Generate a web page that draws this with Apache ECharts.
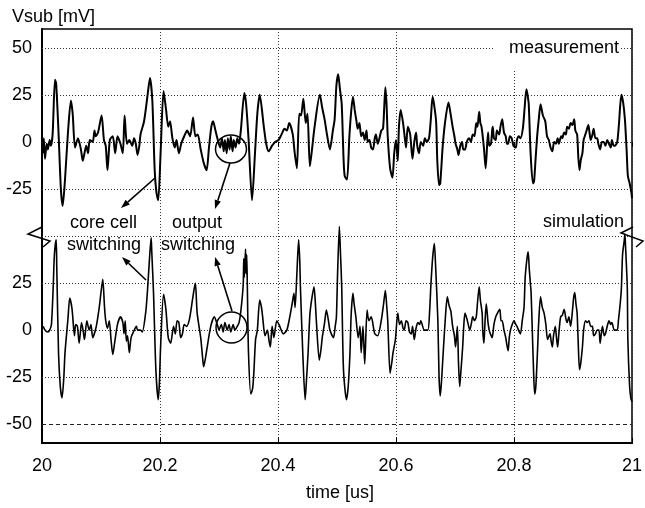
<!DOCTYPE html>
<html>
<head>
<meta charset="utf-8">
<title>Substrate voltage: measurement vs simulation</title>
<script src="https://cdn.jsdelivr.net/npm/echarts/dist/echarts.min.js"></script>
<style>
  html, body { margin: 0; padding: 0; background: #fff; }
  #chart { width: 645px; height: 508px; }
</style>
</head>
<body>
<div id="chart"></div>
<script>
// Substrate voltage Vsub [mV] versus time [us]; [time, mV] pairs.
const measured = [[20.002,-6],[20.003,2],[20.005,-9],[20.008,-1],[20.010,-4],[20.013,1],[20.015,-2],[20.018,4],[20.022,33],[20.024,31],[20.028,5],[20.032,-25],[20.035,-34],[20.039,-20],[20.044,5],[20.049,22],[20.052,15],[20.056,-3],[20.061,2],[20.066,-4],[20.069,-10],[20.072,-6],[20.075,-2],[20.078,-6],[20.081,1],[20.086,0],[20.089,6],[20.091,3],[20.095,5],[20.101,14],[20.105,1],[20.108,-2],[20.111,-15],[20.115,1],[20.120,3],[20.124,-6],[20.128,3],[20.133,-1],[20.137,-6],[20.140,14],[20.144,-1],[20.148,1],[20.153,-2],[20.156,2],[20.159,-1],[20.162,-7],[20.165,-2],[20.167,4],[20.173,11],[20.179,25],[20.183,34],[20.187,22],[20.191,-15],[20.194,-27],[20.197,-31],[20.201,-6],[20.206,27],[20.210,18],[20.214,8],[20.217,11],[20.221,2],[20.225,-3],[20.228,1],[20.232,-6],[20.236,-1],[20.241,3],[20.246,6],[20.251,3],[20.256,13],[20.260,3],[20.264,4],[20.269,-4],[20.274,-11],[20.279,-15],[20.283,-3],[20.287,8],[20.290,11],[20.294,6],[20.298,1],[20.302,-3],[20.305,2],[20.308,-5],[20.310,1],[20.313,-6],[20.315,2],[20.318,-4],[20.320,3],[20.323,-5],[20.325,1],[20.328,-3],[20.331,2],[20.334,-1],[20.337,6],[20.343,26],[20.346,20],[20.350,2],[20.356,-31],[20.361,-6],[20.365,15],[20.369,25],[20.376,8],[20.380,-1],[20.384,-5],[20.390,-2],[20.395,0],[20.401,1],[20.406,4],[20.411,7],[20.415,6],[20.419,10],[20.425,4],[20.428,-5],[20.432,-14],[20.436,15],[20.439,14],[20.443,23],[20.447,10],[20.450,15],[20.454,-13],[20.458,-3],[20.462,8],[20.471,25],[20.475,18],[20.479,12],[20.483,4],[20.488,-4],[20.493,6],[20.496,12],[20.499,30],[20.502,36],[20.505,28],[20.508,20],[20.511,-8],[20.513,-18],[20.517,-20],[20.521,3],[20.524,16],[20.527,24],[20.530,17],[20.533,11],[20.535,7],[20.538,10],[20.541,3],[20.544,5],[20.547,1],[20.550,6],[20.552,0],[20.555,1],[20.558,-3],[20.561,-4],[20.564,2],[20.566,4],[20.569,-1],[20.572,2],[20.575,6],[20.578,7],[20.580,18],[20.582,29],[20.584,20],[20.586,3],[20.590,-14],[20.594,-19],[20.597,-6],[20.600,1],[20.603,-10],[20.605,8],[20.608,17],[20.612,10],[20.615,2],[20.617,-3],[20.620,8],[20.624,4],[20.628,-9],[20.631,0],[20.634,5],[20.636,-2],[20.639,-6],[20.642,0],[20.646,-2],[20.649,2],[20.652,0],[20.656,2],[20.659,12],[20.662,24],[20.664,21],[20.668,11],[20.670,-10],[20.673,-23],[20.675,-22],[20.679,-3],[20.683,10],[20.689,21],[20.692,16],[20.696,8],[20.699,3],[20.701,-1],[20.704,-4],[20.706,-7],[20.709,-2],[20.712,0],[20.714,-4],[20.717,-4],[20.720,0],[20.724,2],[20.727,0],[20.730,4],[20.733,3],[20.736,10],[20.738,8],[20.741,16],[20.743,10],[20.745,8],[20.749,-3],[20.752,-14],[20.756,5],[20.758,-2],[20.761,-1],[20.763,6],[20.764,8],[20.766,2],[20.769,1],[20.771,6],[20.775,4],[20.777,8],[20.780,12],[20.783,5],[20.786,3],[20.788,-1],[20.790,-1],[20.793,3],[20.796,2],[20.799,-2],[20.803,-3],[20.805,1],[20.808,3],[20.811,2],[20.815,7],[20.818,18],[20.821,28],[20.823,25],[20.825,20],[20.828,-5],[20.832,-22],[20.834,-21],[20.836,-12],[20.839,2],[20.842,12],[20.845,20],[20.849,14],[20.853,11],[20.856,3],[20.859,1],[20.862,-3],[20.865,-5],[20.868,0],[20.871,-1],[20.874,2],[20.876,-1],[20.880,3],[20.882,2],[20.885,5],[20.888,4],[20.890,8],[20.893,7],[20.896,10],[20.899,9],[20.902,12],[20.904,6],[20.907,4],[20.909,-8],[20.911,-15],[20.913,-10],[20.916,-6],[20.918,1],[20.921,4],[20.923,6],[20.926,9],[20.928,5],[20.930,1],[20.933,4],[20.935,7],[20.938,2],[20.941,2],[20.943,-1],[20.946,-4],[20.949,0],[20.952,0],[20.955,-2],[20.958,1],[20.961,-1],[20.964,-3],[20.966,1],[20.969,-2],[20.971,-2],[20.975,0],[20.978,10],[20.982,25],[20.985,21],[20.988,12],[20.991,-5],[20.993,-18],[20.996,-22],[20.999,-27],[21.000,-30]];

const simulated = [[20.002,2],[20.005,0],[20.010,-1],[20.013,0],[20.016,3],[20.019,23],[20.021,40],[20.024,48],[20.025,34],[20.028,-12],[20.031,-30],[20.034,-36],[20.037,-25],[20.039,-12],[20.044,6],[20.047,17],[20.051,11],[20.055,-3],[20.057,3],[20.060,2],[20.063,-7],[20.067,4],[20.070,-1],[20.072,-5],[20.076,5],[20.080,0],[20.083,3],[20.086,-4],[20.092,2],[20.097,12],[20.100,20],[20.103,27],[20.106,12],[20.108,5],[20.111,1],[20.114,5],[20.117,-5],[20.120,-13],[20.123,-7],[20.128,3],[20.133,7],[20.137,4],[20.139,-2],[20.141,5],[20.143,-6],[20.145,-3],[20.148,-12],[20.151,-4],[20.155,-1],[20.160,2],[20.162,0],[20.167,0],[20.170,-1],[20.176,10],[20.179,22],[20.182,37],[20.185,49],[20.186,42],[20.189,20],[20.193,-21],[20.197,-37],[20.199,-28],[20.201,-9],[20.206,19],[20.210,11],[20.214,-4],[20.218,-7],[20.223,2],[20.226,-2],[20.229,5],[20.232,4],[20.235,-4],[20.238,-2],[20.241,3],[20.245,2],[20.250,6],[20.255,16],[20.258,22],[20.260,25],[20.263,9],[20.269,-4],[20.272,-14],[20.274,-19.5],[20.277,-15],[20.280,-9],[20.286,2],[20.292,7],[20.298,2],[20.300,0],[20.304,3],[20.307,-1],[20.310,4],[20.314,0],[20.317,3],[20.320,-1],[20.324,3],[20.327,0],[20.331,2],[20.334,4],[20.337,10],[20.341,24],[20.342,38],[20.343,28],[20.345,43],[20.346,30],[20.347,40],[20.348,24],[20.350,-12],[20.354,-34],[20.357,-31],[20.359,-23],[20.362,-5],[20.365,0],[20.369,16],[20.372,12],[20.374,7],[20.378,-3],[20.382,0],[20.385,-6],[20.387,-9],[20.390,2],[20.393,-4],[20.398,5],[20.403,2],[20.409,-2],[20.415,0],[20.420,7],[20.424,14],[20.427,19.5],[20.429,12],[20.432,30],[20.435,48],[20.437,36],[20.438,23],[20.442,-12],[20.446,-37],[20.448,-28],[20.451,-12],[20.454,8],[20.457,16],[20.461,23],[20.463,16],[20.465,5],[20.470,-16],[20.473,-10],[20.475,-4],[20.479,4],[20.482,10.6],[20.486,4],[20.488,0],[20.494,-4],[20.497,2],[20.499,7],[20.501,30],[20.504,55],[20.506,40],[20.508,23],[20.511,-21],[20.516,-37],[20.519,-30],[20.522,-12],[20.524,8],[20.527,19.5],[20.529,14],[20.532,7],[20.536,-4],[20.539,2],[20.541,-12],[20.544,2],[20.547,-18],[20.551,10.6],[20.554,5],[20.558,7],[20.564,-2],[20.569,-3],[20.575,5],[20.579,14],[20.582,21],[20.584,14],[20.586,5],[20.590,-23],[20.593,-17],[20.595,-12],[20.599,-5],[20.603,9],[20.606,3],[20.609,5],[20.612,1],[20.614,0],[20.617,5],[20.620,4],[20.623,-1],[20.626,-2],[20.628,2],[20.631,-5],[20.634,1],[20.637,4],[20.640,3],[20.642,5],[20.648,0],[20.654,0],[20.657,10],[20.659,23],[20.662,38],[20.665,46],[20.667,35],[20.671,5],[20.673,-25],[20.675,-35],[20.677,-28],[20.680,-12],[20.684,8],[20.687,17.7],[20.690,13],[20.693,10],[20.696,2],[20.699,-3],[20.701,-9],[20.704,2],[20.706,-18],[20.708,-30],[20.710,-22],[20.713,-9],[20.715,3],[20.717,9],[20.721,5],[20.725,0],[20.728,4],[20.730,7],[20.733,5],[20.736,7],[20.738,14],[20.741,23],[20.743,16],[20.746,9],[20.747,0],[20.749,-7],[20.751,5],[20.753,14],[20.756,4],[20.758,0],[20.760,-2],[20.763,-4],[20.766,3],[20.769,7],[20.772,9],[20.776,11],[20.778,5],[20.780,5],[20.783,0],[20.786,-4],[20.788,-8],[20.790,-11],[20.792,-4],[20.794,0],[20.797,3],[20.800,5],[20.803,3],[20.805,2],[20.809,-1],[20.811,-2],[20.814,5],[20.817,12],[20.819,28],[20.822,38],[20.824,41.6],[20.826,32],[20.828,24],[20.829,20],[20.831,0],[20.833,-20],[20.835,-34],[20.837,-30],[20.840,-10],[20.842,5],[20.845,17.7],[20.848,12],[20.851,9],[20.854,3],[20.857,-5],[20.861,-2],[20.863,-6],[20.865,-9],[20.867,-3],[20.870,2],[20.872,-4],[20.874,-9],[20.876,-2],[20.879,7],[20.882,8],[20.885,11],[20.888,6],[20.890,4],[20.893,7],[20.896,2],[20.899,10],[20.901,17],[20.903,20],[20.905,14],[20.907,9],[20.909,-8],[20.911,-21],[20.913,-18],[20.916,-9],[20.918,0],[20.921,5],[20.924,4],[20.927,5],[20.930,2],[20.933,2],[20.935,-3],[20.938,-2],[20.941,0],[20.944,0],[20.946,-7],[20.948,-2],[20.950,2],[20.953,-3],[20.955,-2],[20.958,2],[20.961,5],[20.964,3],[20.966,4],[20.970,0],[20.975,0],[20.977,5],[20.980,14],[20.982,22],[20.984,40],[20.987,48],[20.988,51],[20.989,45],[20.992,23],[20.993,-5],[20.996,-30],[20.998,-36],[21.000,-38]];

// Tick labels of the two stacked traces (mV)
const measuredTicks = [50, 25, 0, -25];
const simulatedTicks = [25, 0, -25, -50];
// The simulated trace sits 100 mV lower on the shared axis
const SIM_OFFSET = -100;

const FONT = '"Liberation Sans", Arial, Helvetica, sans-serif';
const chart = echarts.init(document.getElementById('chart'), null, { renderer: 'canvas' });

const labelOf = {};
measuredTicks.forEach(v => { labelOf[v] = String(v); });
simulatedTicks.forEach(v => { labelOf[v + SIM_OFFSET] = String(v); });

// Horizontal grid: measured ticks, the break line, simulated ticks
const dottedRows = measuredTicks.concat([50 + SIM_OFFSET])
  .concat(simulatedTicks.filter(v => v > -50).map(v => v + SIM_OFFSET));
const dashedRows = [-50 + SIM_OFFSET];

const gridLines = dottedRows.map(v => ({ yAxis: v, lineStyle: { type: [1, 2], color: '#333', width: 1 } }))
  .concat(dashedRows.map(v => ({ yAxis: v, lineStyle: { type: [4, 3], color: '#222', width: 1 } })));

function arrow(x1, y1, x2, y2) {
  const a = Math.atan2(y2 - y1, x2 - x1);
  const L = 9, W = 3.2;
  const bx = x2 - L * Math.cos(a), by = y2 - L * Math.sin(a);
  const nx = -Math.sin(a) * W, ny = Math.cos(a) * W;
  return [
    { type: 'line', z: 60, shape: { x1: x1, y1: y1, x2: bx, y2: by }, style: { stroke: '#000', lineWidth: 1.6 } },
    { type: 'polygon', z: 60, shape: { points: [[x2, y2], [bx + nx, by + ny], [bx - nx, by - ny]] }, style: { fill: '#000' } }
  ];
}

function label(text, x, y, align) {
  return { type: 'text', z: 60, x: x, y: y,
    style: { text: text, fill: '#000', font: '18px ' + FONT, align: align || 'left', verticalAlign: 'middle' } };
}

const graphics = [
  { type: 'rect', z: 50, shape: { x: 495, y: 32, width: 126, height: 38 }, style: { fill: '#fff' } },
  label('measurement', 619, 48, 'right'),
  label('simulation', 624, 222, 'right'),
  label('Vsub [mV]', 12, 17),
  label('time [us]', 340, 493, 'center'),
  label('core cell', 70, 223),
  label('output', 172, 223),
  label('switching', 67, 245),
  label('switching', 161, 245),
  { type: 'ellipse', z: 60, shape: { cx: 231, cy: 149, rx: 15.5, ry: 14 }, style: { fill: 'none', stroke: '#000', lineWidth: 1.5 } },
  { type: 'ellipse', z: 60, shape: { cx: 231.5, cy: 327.5, rx: 15.5, ry: 15.5 }, style: { fill: 'none', stroke: '#000', lineWidth: 1.5 } },
  // axis break marks
  { type: 'polyline', z: 60, shape: { points: [[42, 227], [28, 234], [50, 241], [43, 247]] }, style: { stroke: '#000', lineWidth: 1.5, fill: 'none' } },
  { type: 'polyline', z: 60, shape: { points: [[633, 227], [621, 233], [643, 241], [636, 247]] }, style: { stroke: '#000', lineWidth: 1.5, fill: 'none' } }
].concat(arrow(155, 178, 121, 208))
 .concat(arrow(230, 163, 215, 209))
 .concat(arrow(146, 280, 122, 257))
 .concat(arrow(232, 311, 215, 257));

chart.setOption({
  animation: false,
  backgroundColor: '#fff',
  grid: { left: 42, right: 10, top: 29, bottom: 65, show: true, borderColor: '#000', borderWidth: 1.5, backgroundColor: 'transparent' },
  xAxis: [{
    type: 'value', min: 20, max: 21, interval: 0.2,
    axisLine: { show: true, onZero: false, lineStyle: { color: '#000', width: 2 } },
    axisTick: { show: true, inside: true, length: 5, lineStyle: { color: '#000', width: 1 } },
    axisLabel: { color: '#000', fontSize: 18, fontFamily: FONT, margin: 14 },
    splitLine: { show: true, lineStyle: { type: [1, 2], color: '#333', width: 1 } }
  }, {
    type: 'value', min: 20, max: 21, interval: 0.2, position: 'top',
    axisLine: { show: false },
    axisTick: { show: true, inside: true, length: 5, lineStyle: { color: '#000', width: 1 } },
    axisLabel: { show: false },
    splitLine: { show: false }
  }],
  yAxis: {
    type: 'value', min: -160, max: 60, interval: 5,
    axisLine: { show: true, onZero: false, lineStyle: { color: '#000', width: 2 } },
    axisTick: { show: false },
    axisLabel: {
      color: '#000', fontSize: 18, fontFamily: FONT, margin: 10,
      formatter: v => labelOf[Math.round(v)] !== undefined ? labelOf[Math.round(v)] : ''
    },
    splitLine: { show: false }
  },
  graphic: graphics,
  series: [{
    name: 'measurement', type: 'line', xAxisIndex: 0,
    data: measured,
    showSymbol: false, symbol: 'none',
    smooth: 0.25,
    lineStyle: { color: '#000', width: 2 },
    z: 3,
    markLine: { silent: true, symbol: ['none', 'none'], label: { show: false }, animation: false, data: gridLines, z: 1 }
  }, {
    name: 'simulation', type: 'line', xAxisIndex: 0,
    data: simulated.map(p => [p[0], p[1] + SIM_OFFSET]),
    showSymbol: false, symbol: 'none',
    smooth: 0.25,
    lineStyle: { color: '#000', width: 1.6 },
    z: 3
  }]
});
</script>
</body>
</html>
